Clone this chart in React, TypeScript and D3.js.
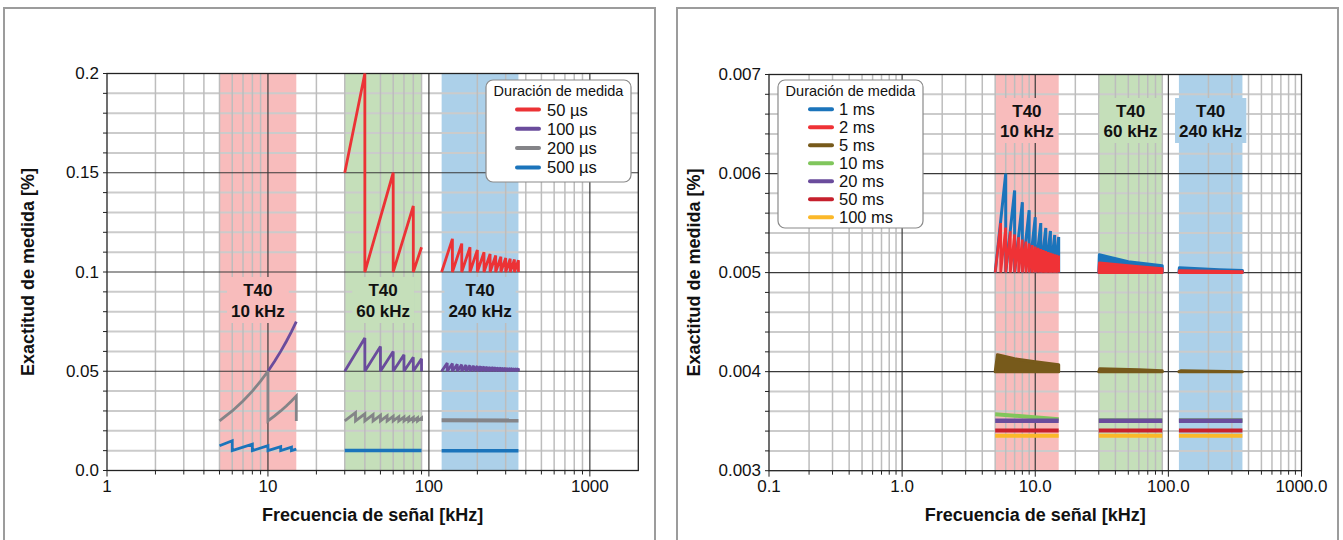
import React from "react";
import * as d3 from "d3";

const W = 1343;
const H = 540;
const FONT = "'Liberation Sans', Arial, Helvetica, sans-serif";

// ---------------- data ----------------
const bandTitle = "T40";
const bandLabels = ["10 kHz", "60 kHz", "240 kHz"];
const bandLo = [5, 30, 120];
const bandHi = [15, 90, 360];

const leftXTicks = [1, 10, 100, 1000];
const leftXTickLabels = ["1", "10", "100", "1000"];
const leftYTicks = [0, 0.05, 0.1, 0.15, 0.2];
const leftYTickLabels = ["0.0", "0.05", "0.1", "0.15", "0.2"];

const rightXTicks = [0.1, 1, 10, 100, 1000];
const rightXTickLabels = ["0.1", "1.0", "10.0", "100.0", "1000.0"];
const rightYTicks = [0.003, 0.004, 0.005, 0.006, 0.007];
const rightYTickLabels = ["0.003", "0.004", "0.005", "0.006", "0.007"];

const legendTitle = "Duración de medida";
const leftSeriesNames = ["50 µs", "100 µs", "200 µs", "500 µs"];
const rightSeriesNames = ["1 ms", "2 ms", "5 ms", "10 ms", "20 ms", "50 ms", "100 ms"];

// 50 µs
const us50Band60Edges = [30, 40, 60, 80, 90];
const us50Band60Peaks = [0.2, 0.15, 0.1333, 0.1125];
const us50Band240Edges = [120, 140, 160, 180, 200, 220, 240, 260, 280, 300, 320, 340, 360];
const us50Band240Peaks = [0.1167, 0.1143, 0.1125, 0.1111, 0.11, 0.1091, 0.1083, 0.1077, 0.1071, 0.1067, 0.1063, 0.1059];
// 100 µs
const us100Band10: [number, number][] = [[10, 0.05], [11, 0.055], [12, 0.06], [13, 0.065], [14, 0.07], [15, 0.075]];
const us100Band60Edges = [30, 40, 50, 60, 70, 80, 90];
const us100Band60Peaks = [0.0667, 0.0625, 0.06, 0.0583, 0.0571, 0.0563];
const us100Band240Edges = [120, 130, 140, 150, 160, 170, 180, 190, 200, 210, 220, 230, 240, 250, 260, 270, 280, 290, 300, 310, 320, 330, 340, 350, 360];
const us100Band240Peaks = [0.05417, 0.05385, 0.05357, 0.05333, 0.05313, 0.05294, 0.05278, 0.05263, 0.0525, 0.05238, 0.05227, 0.05217, 0.05208, 0.052, 0.05192, 0.05185, 0.05179, 0.05172, 0.05167, 0.05161, 0.05156, 0.05152, 0.05147, 0.05143];
// 200 µs
const us200Band10: [number, number][] = [[5, 0.025], [6, 0.03], [7, 0.035], [8, 0.04], [9, 0.045], [10, 0.05], [10, 0.025], [11, 0.0275], [12, 0.03], [13, 0.0325], [14, 0.035], [15, 0.0375], [15, 0.025]];
const us200Band60Edges = [30, 35, 40, 45, 50, 55, 60, 65, 70, 75, 80, 85, 90];
const us200Band60Peaks = [0.02917, 0.02857, 0.02813, 0.02778, 0.0275, 0.02727, 0.02708, 0.02692, 0.02679, 0.02667, 0.02656, 0.02647];
const us200Band240: [number, number][] = [[120, 0.0253], [360, 0.0252]];
// 500 µs
const us500Band10Edges = [5, 6, 8, 10, 12, 14, 15];
const us500Band10Peaks = [0.015, 0.0133, 0.0125, 0.012, 0.0117, 0.0108];
const us500Band60: [number, number][] = [[30, 0.0101], [90, 0.0101]];
const us500Band240: [number, number][] = [[120, 0.01], [360, 0.01]];

// 1 ms
const ms1Band10Edges = [5, 6, 7, 8, 9, 10, 11, 12, 13, 14, 15];
const ms1Band10Peaks = [0.006, 0.00583, 0.00571, 0.00563, 0.00556, 0.0055, 0.00545, 0.00542, 0.00538, 0.00536];
const ms1Band60Top: [number, number][] = [[30, 0.005], [30.3, 0.00518], [50, 0.00511], [90, 0.00507], [90, 0.005]];
const ms1Band240Top: [number, number][] = [[120, 0.005], [121, 0.00505], [240, 0.00503], [360, 0.00502], [360, 0.005]];
// 2 ms
const ms2Band10Edges = [5, 5.5, 6, 6.5, 7, 7.5, 8, 8.5, 9, 9.5, 10, 10.5, 11, 11.5, 12, 12.5, 13, 13.5, 14, 14.5, 15];
const ms2Band10Peaks = [0.0055, 0.005455, 0.005417, 0.005385, 0.005357, 0.005333, 0.005313, 0.005294, 0.005278, 0.005263, 0.00525, 0.005238, 0.005227, 0.005217, 0.005208, 0.0052, 0.005192, 0.005185, 0.005179, 0.005172];
const ms2Band60Top: [number, number][] = [[30, 0.005], [30.3, 0.0051], [60, 0.00506], [90, 0.00504], [90, 0.005]];
const ms2Band240Top: [number, number][] = [[120, 0.005], [121, 0.00502], [360, 0.00501], [360, 0.005]];
// 5 ms
const ms5Band10Top: [number, number][] = [[5, 0.004], [5.2, 0.00417], [7, 0.00413], [10, 0.0041], [15, 0.00407], [15, 0.004]];
const ms5Band60Top: [number, number][] = [[30, 0.004], [30.5, 0.00403], [60, 0.00402], [90, 0.00401], [90, 0.004]];
const ms5Band240Top: [number, number][] = [[120, 0.004], [125, 0.00401], [360, 0.004]];
// 10 ms
const ms10Band10: [number, number][] = [[5, 0.00357], [15, 0.00352]];
const ms10Band60: [number, number][] = [[30, 0.00351], [90, 0.00351]];
const ms10Band240: [number, number][] = [[120, 0.00351], [360, 0.00351]];
// 20 ms
const ms20Band10: [number, number][] = [[5, 0.003505], [15, 0.003505]];
const ms20Band60: [number, number][] = [[30, 0.003505], [90, 0.003505]];
const ms20Band240: [number, number][] = [[120, 0.003505], [360, 0.003505]];
// 50 ms
const ms50Band10: [number, number][] = [[5, 0.003405], [15, 0.003405]];
const ms50Band60: [number, number][] = [[30, 0.003405], [90, 0.003405]];
const ms50Band240: [number, number][] = [[120, 0.003405], [360, 0.003405]];
// 100 ms
const ms100Band10: [number, number][] = [[5, 0.003353], [15, 0.003353]];
const ms100Band60: [number, number][] = [[30, 0.003353], [90, 0.003353]];
const ms100Band240: [number, number][] = [[120, 0.003353], [360, 0.003353]];

// ---------------- styles ----------------
const bandColors = ["#f8bcbc", "#c5dfba", "#acd0e9"];
const leftColors = ["#ec3235", "#6a4c9c", "#848488", "#1b74bb"];
const rightColors = ["#1b74bb", "#ef3236", "#775a1b", "#80c65c", "#6a4c9c", "#c6202d", "#fbb829"];

type Pt = [number, number];
type Seg =
  | { kind: "line"; pts: Pt[]; w?: number }
  | { kind: "saw"; edges: number[]; start: number; peaks: number[]; base: number; dropLast: boolean; w?: number }
  | { kind: "area"; top: Pt[]; base: number; w?: number };

type Series = { name: string; color: string; width: number; segs: Seg[] };

const saw = (edges: number[], start: number, peaks: number[], base: number, dropLast: boolean, w?: number): Seg => ({
  kind: "saw", edges, start, peaks, base, dropLast, w,
});

function sawPoints(s: { edges: number[]; start: number; peaks: number[]; base: number; dropLast: boolean }): Pt[] {
  const pts: Pt[] = [[s.edges[0], s.start]];
  s.peaks.forEach((p, i) => {
    pts.push([s.edges[i + 1], p]);
    if (i < s.peaks.length - 1 || s.dropLast) pts.push([s.edges[i + 1], s.base]);
  });
  return pts;
}

const leftSeries: Series[] = [
  { name: leftSeriesNames[0], color: leftColors[0], width: 2.8, segs: [
    saw(us50Band60Edges, 0.15, us50Band60Peaks, 0.1, false),
    saw(us50Band240Edges, 0.1, us50Band240Peaks, 0.1, true),
  ] },
  { name: leftSeriesNames[1], color: leftColors[1], width: 2.8, segs: [
    { kind: "line", pts: us100Band10 },
    saw(us100Band60Edges, 0.05, us100Band60Peaks, 0.05, true),
    saw(us100Band240Edges, 0.05, us100Band240Peaks, 0.05, true),
  ] },
  { name: leftSeriesNames[2], color: leftColors[2], width: 2.8, segs: [
    { kind: "line", pts: us200Band10 },
    saw(us200Band60Edges, 0.025, us200Band60Peaks, 0.025, true),
    { kind: "line", pts: us200Band240, w: 4 },
  ] },
  { name: leftSeriesNames[3], color: leftColors[3], width: 2.8, segs: [
    saw(us500Band10Edges, 0.0125, us500Band10Peaks, 0.01, false),
    { kind: "line", pts: us500Band60, w: 3.5 },
    { kind: "line", pts: us500Band240, w: 3.5 },
  ] },
];

const rightSeries: Series[] = [
  { name: rightSeriesNames[0], color: rightColors[0], width: 3, segs: [
    saw(ms1Band10Edges, 0.005, ms1Band10Peaks, 0.005, true),
    { kind: "area", top: ms1Band60Top, base: 0.005 },
    { kind: "area", top: ms1Band240Top, base: 0.005 },
  ] },
  { name: rightSeriesNames[1], color: rightColors[1], width: 2.6, segs: [
    saw(ms2Band10Edges, 0.005, ms2Band10Peaks, 0.005, true),
    { kind: "area", top: ms2Band60Top, base: 0.005 },
    { kind: "area", top: ms2Band240Top, base: 0.005 },
  ] },
  { name: rightSeriesNames[2], color: rightColors[2], width: 3, segs: [
    { kind: "area", top: ms5Band10Top, base: 0.004 },
    { kind: "area", top: ms5Band60Top, base: 0.004 },
    { kind: "area", top: ms5Band240Top, base: 0.004 },
  ] },
  { name: rightSeriesNames[3], color: rightColors[3], width: 4, segs: [
    { kind: "line", pts: ms10Band10 }, { kind: "line", pts: ms10Band60 }, { kind: "line", pts: ms10Band240 },
  ] },
  { name: rightSeriesNames[4], color: rightColors[4], width: 4.5, segs: [
    { kind: "line", pts: ms20Band10 }, { kind: "line", pts: ms20Band60 }, { kind: "line", pts: ms20Band240 },
  ] },
  { name: rightSeriesNames[5], color: rightColors[5], width: 4, segs: [
    { kind: "line", pts: ms50Band10 }, { kind: "line", pts: ms50Band60 }, { kind: "line", pts: ms50Band240 },
  ] },
  { name: rightSeriesNames[6], color: rightColors[6], width: 4, segs: [
    { kind: "line", pts: ms100Band10 }, { kind: "line", pts: ms100Band60 }, { kind: "line", pts: ms100Band240 },
  ] },
];

// rough bold text width estimate (Arial metrics)
const boldW: Record<string, number> = { "0": 0.556, "1": 0.556, "2": 0.556, "4": 0.556, "6": 0.556, " ": 0.278, k: 0.556, H: 0.722, z: 0.5, T: 0.611 };
const textWidth = (s: string, size: number) => s.split("").reduce((a, c) => a + (boldW[c] ?? 0.556), 0) * size;

type PanelCfg = {
  frame: [number, number, number, number];
  plot: { x0: number; x1: number; y0: number; y1: number };
  xDomain: [number, number];
  yDomain: [number, number];
  xTicks: number[];
  xTickLabels: string[];
  yTicks: number[];
  yTickLabels: string[];
  yMinorStep: number;
  yMajorStep: number;
  series: Series[];
  labelY: [number, number];
  legend: { x: number; y: number; w: number; h: number; titleY: number; row0: number; rowStep: number; lx0: number; lx1: number; tx: number };
  yTitleX: number;
};

function Panel({ cfg }: { cfg: PanelCfg }) {
  const { plot } = cfg;
  const xs = d3.scaleLog().domain(cfg.xDomain).range([plot.x0, plot.x1]);
  const ys = d3.scaleLinear().domain(cfg.yDomain).range([plot.y1, plot.y0]);

  // minor/major x grid positions
  const xMinor: number[] = [];
  const [dLo, dHi] = cfg.xDomain;
  for (let e = Math.floor(Math.log10(dLo)); e <= Math.ceil(Math.log10(dHi)); e++) {
    for (let k = 2; k <= 9; k++) {
      const v = k * Math.pow(10, e);
      if (v > dLo * 1.0001 && v < dHi * 0.9999) xMinor.push(v);
    }
  }
  const xMajor = cfg.xTicks.filter((v) => v > dLo * 1.0001 && v < dHi * 0.9999);
  const nY = Math.round((cfg.yDomain[1] - cfg.yDomain[0]) / cfg.yMinorStep);
  const yAll = d3.range(nY + 1).map((i) => cfg.yDomain[0] + i * cfg.yMinorStep);
  const ratio = Math.round(cfg.yMajorStep / cfg.yMinorStep);
  const yMinor = yAll.filter((_, i) => i % ratio !== 0);
  const yMajor = yAll.filter((_, i) => i % ratio === 0 && i !== 0 && i !== nY);

  const line = d3.line<Pt>().x((d) => xs(d[0])).y((d) => ys(d[1]));

  const plotCx = (plot.x0 + plot.x1) / 2;
  const plotCy = (plot.y0 + plot.y1) / 2;
  const lg = cfg.legend;

  return (
    <g>
      <rect x={cfg.frame[0]} y={cfg.frame[1]} width={cfg.frame[2]} height={cfg.frame[3]} fill="none" stroke="#9c9c9c" strokeWidth={2} />
      {/* bands */}
      {bandLo.map((lo, i) => (
        <rect key={"b" + i} x={xs(lo)} y={plot.y0} width={xs(bandHi[i]) - xs(lo)} height={plot.y1 - plot.y0} fill={bandColors[i]} />
      ))}
      {/* minor grid */}
      {yMinor.map((v, i) => (
        <line key={"ym" + i} x1={plot.x0} x2={plot.x1} y1={ys(v)} y2={ys(v)} stroke="#cbcbcb" strokeWidth={2} />
      ))}
      {xMinor.map((v, i) => (
        <line key={"xm" + i} x1={xs(v)} x2={xs(v)} y1={plot.y0} y2={plot.y1} stroke="#bdbdbd" strokeWidth={1.5} />
      ))}
      {/* major grid */}
      {yMajor.map((v, i) => (
        <line key={"yM" + i} x1={plot.x0} x2={plot.x1} y1={ys(v)} y2={ys(v)} stroke="#3a3a3a" strokeWidth={1.2} />
      ))}
      {xMajor.map((v, i) => (
        <line key={"xM" + i} x1={xs(v)} x2={xs(v)} y1={plot.y0} y2={plot.y1} stroke="#3a3a3a" strokeWidth={1.2} />
      ))}
      {/* band labels */}
      {bandLo.map((lo, i) => {
        const cx = xs(Math.sqrt(lo * bandHi[i]));
        const tw = Math.max(textWidth(bandTitle, 17), textWidth(bandLabels[i], 17)) + 8;
        return (
          <g key={"bl" + i}>
            <rect x={cx - tw / 2} y={cfg.labelY[0] - 13} width={tw} height={cfg.labelY[1] - cfg.labelY[0] + 25} fill={bandColors[i]} />
            <text x={cx} y={cfg.labelY[0]} textAnchor="middle" dominantBaseline="central" fontFamily={FONT} fontWeight="bold" fontSize={17} fill="#111">{bandTitle}</text>
            <text x={cx} y={cfg.labelY[1]} textAnchor="middle" dominantBaseline="central" fontFamily={FONT} fontWeight="bold" fontSize={17} fill="#111">{bandLabels[i]}</text>
          </g>
        );
      })}
      {/* plot frame */}
      <rect x={plot.x0} y={plot.y0} width={plot.x1 - plot.x0} height={plot.y1 - plot.y0} fill="none" stroke="#222" strokeWidth={1.3} />
      {/* ticks */}
      {yAll.map((v, i) => (
        <line key={"yt" + i} x1={plot.x0 - 4} x2={plot.x0} y1={ys(v)} y2={ys(v)} stroke="#222" strokeWidth={1} />
      ))}
      {[...xMinor, ...cfg.xTicks].map((v, i) => (
        <line key={"xt" + i} x1={xs(v)} x2={xs(v)} y1={plot.y1} y2={plot.y1 + (cfg.xTicks.includes(v) ? 6 : 4)} stroke="#222" strokeWidth={1} />
      ))}
      {cfg.yTicks.map((v, i) => (
        <text key={"yl" + i} x={plot.x0 - 8} y={ys(v)} textAnchor="end" dominantBaseline="central" fontFamily={FONT} fontSize={17} fill="#111">{cfg.yTickLabels[i]}</text>
      ))}
      {cfg.xTicks.map((v, i) => (
        <text key={"xl" + i} x={xs(v)} y={plot.y1 + 16} textAnchor="middle" dominantBaseline="central" fontFamily={FONT} fontSize={17} fill="#111">{cfg.xTickLabels[i]}</text>
      ))}
      <text x={plotCx} y={plot.y1 + 44} textAnchor="middle" dominantBaseline="central" fontFamily={FONT} fontWeight="bold" fontSize={18} fill="#111">Frecuencia de señal [kHz]</text>
      <text transform={`translate(${cfg.yTitleX},${plotCy}) rotate(-90)`} textAnchor="middle" dominantBaseline="central" fontFamily={FONT} fontWeight="bold" fontSize={18} fill="#111">Exactitud de medida [%]</text>
      {/* data */}
      {cfg.series.map((s, si) => (
        <g key={"s" + si}>
          {s.segs.map((seg, gi) => {
            const w = seg.w ?? s.width;
            if (seg.kind === "area") {
              const area = d3.area<Pt>().x((d) => xs(d[0])).y0(ys(seg.base)).y1((d) => ys(d[1]));
              return <path key={gi} d={area(seg.top) || ""} fill={s.color} stroke={s.color} strokeWidth={w} strokeLinejoin="round" />;
            }
            const pts = seg.kind === "saw" ? sawPoints(seg) : seg.pts;
            return <path key={gi} d={line(pts) || ""} fill="none" stroke={s.color} strokeWidth={w} strokeLinejoin="miter" strokeMiterlimit={3} />;
          })}
        </g>
      ))}
      {/* legend */}
      <rect x={lg.x} y={lg.y} width={lg.w} height={lg.h} rx={7} fill="#fff" stroke="#8a8a8a" strokeWidth={1.2} />
      <text x={lg.x + lg.w / 2} y={lg.titleY} textAnchor="middle" dominantBaseline="central" fontFamily={FONT} fontSize={14.5} fill="#111">{legendTitle}</text>
      {cfg.series.map((s, i) => (
        <g key={"lg" + i}>
          <line x1={lg.lx0} x2={lg.lx1} y1={lg.row0 + i * lg.rowStep} y2={lg.row0 + i * lg.rowStep} stroke={s.color} strokeWidth={4} strokeLinecap="round" />
          <text x={lg.tx} y={lg.row0 + i * lg.rowStep} dominantBaseline="central" fontFamily={FONT} fontSize={16.5} fill="#111">{s.name}</text>
        </g>
      ))}
    </g>
  );
}

const leftCfg: PanelCfg = {
  frame: [4, 8, 651, 560],
  plot: { x0: 107, x1: 638.3, y0: 73.5, y1: 470.5 },
  xDomain: [1, 2000],
  yDomain: [0, 0.2],
  xTicks: leftXTicks,
  xTickLabels: leftXTickLabels,
  yTicks: leftYTicks,
  yTickLabels: leftYTickLabels,
  yMinorStep: 0.01,
  yMajorStep: 0.05,
  series: leftSeries,
  labelY: [290, 311],
  legend: { x: 486, y: 80, w: 145, h: 102, titleY: 91, row0: 109.5, rowStep: 19.3, lx0: 517, lx1: 539, tx: 547 },
  yTitleX: 28,
};

const rightCfg: PanelCfg = {
  frame: [677, 8, 661, 560],
  plot: { x0: 769, x1: 1301.5, y0: 74.5, y1: 470.7 },
  xDomain: [0.1, 1000],
  yDomain: [0.003, 0.007],
  xTicks: rightXTicks,
  xTickLabels: rightXTickLabels,
  yTicks: rightYTicks,
  yTickLabels: rightYTickLabels,
  yMinorStep: 0.0002,
  yMajorStep: 0.001,
  series: rightSeries,
  labelY: [111, 131],
  legend: { x: 778, y: 80, w: 145, h: 148, titleY: 91, row0: 109.3, rowStep: 18, lx0: 810, lx1: 832, tx: 839 },
  yTitleX: 694,
};

export default function App() {
  return (
    <svg width={W} height={H} style={{ position: "absolute", left: 0, top: 0, background: "#fff" }}>
      <rect x={0} y={0} width={W} height={H} fill="#fff" />
      <Panel cfg={leftCfg} />
      <Panel cfg={rightCfg} />
    </svg>
  );
}
